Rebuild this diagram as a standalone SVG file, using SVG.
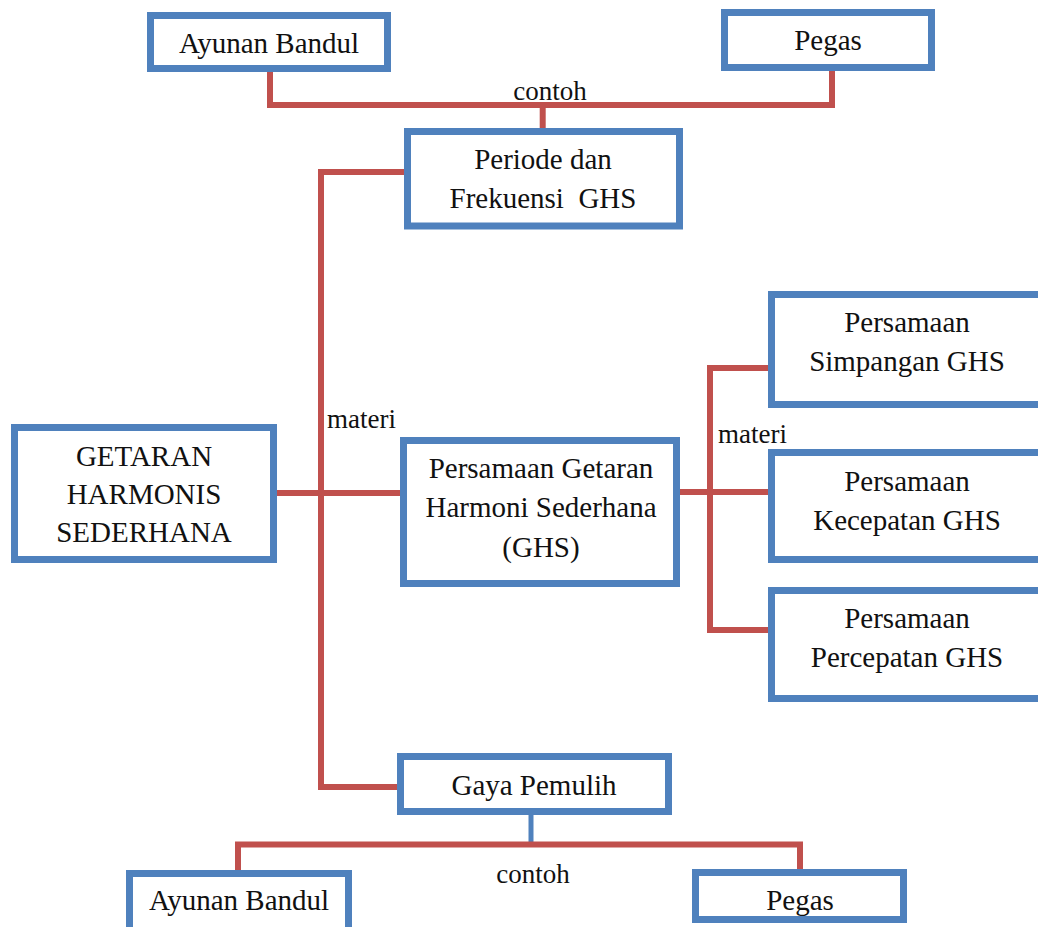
<svg xmlns="http://www.w3.org/2000/svg" width="1038" height="927" viewBox="0 0 1038 927" font-family="Liberation Serif, DejaVu Serif, serif" font-size="29" text-anchor="middle">
<style>
.box{fill:#ffffff;stroke:#4F81BD;stroke-width:7}
.con{fill:none;stroke:#C0504D;stroke-width:6}
.conb{fill:none;stroke:#4F81BD;stroke-width:5}
text{fill:#111}
</style>
<rect width="1038" height="927" fill="#ffffff"/>
<g id="connectors">
<path class="con" d="M270,72 V105 H832 V71"/>
<path class="con" d="M542.7,105 V129"/>
<path class="con" d="M405,172 H321 V787 H398"/>
<path class="con" d="M276,493 H401"/>
<path class="con" d="M678,492 H770"/>
<path class="con" d="M770,368 H710 V630 H770"/>
<path class="conb" d="M531,814 V842"/>
<path class="con" d="M238,871 V844.5 H800 V870"/>
<text font-family="Liberation Serif, serif" font-size="27" x="550" y="100">contoh</text>
<text font-family="Liberation Serif, serif" font-size="27" x="327" y="428" text-anchor="start">materi</text>
<text font-family="Liberation Serif, serif" font-size="27" x="718" y="443" text-anchor="start">materi</text>
<text font-family="Liberation Serif, serif" font-size="27" x="533" y="883">contoh</text>
</g>
<g id="n_ayunan_top">
<rect class="box" x="150.5" y="15.5" width="237" height="53"/>
<text x="269" y="53">Ayunan Bandul</text>
</g>
<g id="n_pegas_top">
<rect class="box" x="724.5" y="12.5" width="207" height="55"/>
<text x="828" y="50">Pegas</text>
</g>
<g id="n_periode">
<rect class="box" x="407.5" y="131.5" width="272" height="94.5"/>
<text x="543" y="169">Periode dan</text>
<text x="543" y="208" xml:space="preserve">Frekuensi  GHS</text>
</g>
<g id="n_getaran">
<rect class="box" x="14.5" y="427.5" width="259" height="132"/>
<text x="144" y="466">GETARAN</text>
<text x="144" y="504">HARMONIS</text>
<text x="144" y="542">SEDERHANA</text>
</g>
<g id="n_pghs">
<rect class="box" x="403.5" y="440.5" width="273" height="143"/>
<text x="541" y="478">Persamaan Getaran</text>
<text x="541" y="517">Harmoni Sederhana</text>
<text x="541" y="557">(GHS)</text>
</g>
<g id="n_simpangan">
<rect class="box" x="771.5" y="294.5" width="300" height="110"/>
<text x="907" y="332">Persamaan</text>
<text x="907" y="371">Simpangan GHS</text>
</g>
<g id="n_kecepatan">
<rect class="box" x="771.5" y="452.5" width="300" height="107"/>
<text x="907" y="491">Persamaan</text>
<text x="907" y="530">Kecepatan GHS</text>
</g>
<g id="n_percepatan">
<rect class="box" x="771.5" y="590.5" width="300" height="108"/>
<text x="907" y="628">Persamaan</text>
<text x="907" y="667">Percepatan GHS</text>
</g>
<g id="n_gaya">
<rect class="box" x="400.5" y="756.5" width="268" height="55"/>
<text x="534" y="795">Gaya Pemulih</text>
</g>
<g id="n_ayunan_bottom">
<rect class="box" x="129.5" y="873.5" width="219" height="80"/>
<text x="239" y="910">Ayunan Bandul</text>
</g>
<g id="n_pegas_bottom">
<clipPath id="cp"><rect x="699" y="876" width="201" height="41"/></clipPath>
<rect class="box" x="695.5" y="872.5" width="208" height="47"/>
<text x="800" y="910" clip-path="url(#cp)">Pegas</text>
</g>
</svg>
